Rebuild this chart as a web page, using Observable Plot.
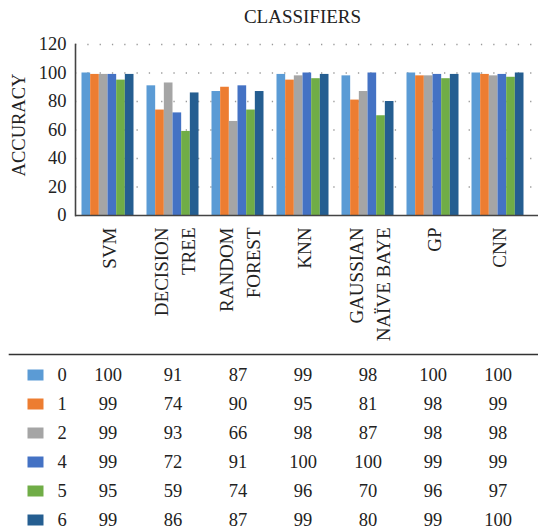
<!DOCTYPE html>
<html>
<head>
<meta charset="utf-8">
<script src="https://cdn.jsdelivr.net/npm/d3@7"></script>
<script src="https://cdn.jsdelivr.net/npm/@observablehq/plot@0.6"></script>
<style>
  html, body { margin: 0; background: #fff; overflow: hidden; font-family: "Liberation Serif", "Times New Roman", serif; }
  #wrap { width: 538px; position: relative; }
  #title { height: 30px; line-height: 34px; padding-left: 75px; width: 455px; text-align: center; font-size: 19px; color: #222; }
  svg { display: block; }
</style>
</head>
<body>
<div id="wrap">
  <div id="title">CLASSIFIERS</div>
  <div id="chart"></div>
  <div id="table"></div>
</div>
<script>
const categories = ["SVM", "DECISION\nTREE", "RANDOM\nFOREST", "KNN", "GAUSSIAN\nNAÏVE BAYE", "GP", "CNN"];
const series = ["0", "1", "2", "4", "5", "6"];
const colors = ["#5B9BD5", "#ED7D31", "#A5A5A5", "#4472C4", "#70AD47", "#255E91"];
const values0 = [100, 91, 87, 99, 98, 100, 100];
const values1 = [99, 74, 90, 95, 81, 98, 99];
const values2 = [99, 93, 66, 98, 87, 98, 98];
const values4 = [99, 72, 91, 100, 100, 99, 99];
const values5 = [95, 59, 74, 96, 70, 96, 97];
const values6 = [99, 86, 87, 99, 80, 99, 100];
const yTicks = [0, 20, 40, 60, 80, 100, 120];

const allValues = [values0, values1, values2, values4, values5, values6];
const data = [];
series.forEach((s, si) => categories.forEach((c, ci) => data.push({category: c, series: s, value: allValues[si][ci]})));

const W = 538, ML = 75, MR = 8;
const step = (W - ML - MR) / categories.length;
const groupPad = 6.5;
const barW = (step - 2 * groupPad) / series.length;
const font = "Liberation Serif, Times New Roman, serif";

const xOpts = {type: "band", domain: categories, padding: 0, axis: null};
const colorOpts = {domain: series, range: colors};

const bars = series.map((s, i) => Plot.barY(data.filter(d => d.series === s), {
  x: "category", y: "value", fill: "series",
  insetLeft: groupPad + i * barW,
  insetRight: step - groupPad - (i + 1) * barW
}));

const chart = Plot.plot({
  width: W, height: 320,
  marginLeft: ML, marginRight: MR, marginTop: 14, marginBottom: 135,
  style: {fontFamily: font, background: "#fff", overflow: "visible"},
  x: xOpts,
  y: {domain: [0, 120], axis: null},
  color: colorOpts,
  marks: [
    Plot.ruleY(yTicks.filter(d => d > 0), {stroke: "#999", strokeWidth: 1.3, strokeDasharray: "1.3,11", insetRight: -8}),
    ...bars,
    Plot.text(yTicks, {y: d => d, text: d => String(d), frameAnchor: "left", dx: -9, textAnchor: "end", fontSize: 18.5, fill: "#222"}),
    Plot.ruleY([0], {stroke: "#444", strokeWidth: 1.6, insetRight: -8}),
    Plot.frame({anchor: "left", stroke: "#444", strokeWidth: 1.6}),
    Plot.text(["ACCURACY"], {frameAnchor: "left", dx: -56, dy: -5, rotate: -90, text: d => d, textAnchor: "middle", fontSize: 18.5, fill: "#222", lineAnchor: "middle"}),
    Plot.text(categories, {x: d => d, text: d => d, frameAnchor: "bottom", dy: 12, rotate: -90, textAnchor: "end", lineAnchor: "middle", lineHeight: 1.38, fontSize: 19, fill: "#222"})
  ]
});
document.getElementById("chart").appendChild(chart);

const swatch = {draw(context) { context.rect(-8, -5.5, 16, 11); }};

const table = Plot.plot({
  width: W, height: 184,
  marginLeft: ML, marginRight: MR, marginTop: 10, marginBottom: 0,
  style: {fontFamily: font, background: "#fff", overflow: "visible"},
  x: xOpts,
  y: {type: "band", domain: series, padding: 0, axis: null},
  color: colorOpts,
  marks: [
    Plot.frame({anchor: "top", stroke: "#333", strokeWidth: 1.6, insetTop: -6, insetLeft: -66, insetRight: -8}),
    Plot.dot(series, {y: d => d, fill: d => d, symbol: swatch, r: 5, frameAnchor: "left", dx: -40, stroke: null}),
    Plot.text(series, {y: d => d, text: d => d, frameAnchor: "left", dx: -18, textAnchor: "start", fontSize: 18.5, fill: "#222"}),
    Plot.text(data, {x: "category", y: "series", text: d => String(d.value), fontSize: 18.5, fill: "#222"})
  ]
});
document.getElementById("table").appendChild(table);
</script>
</body>
</html>
